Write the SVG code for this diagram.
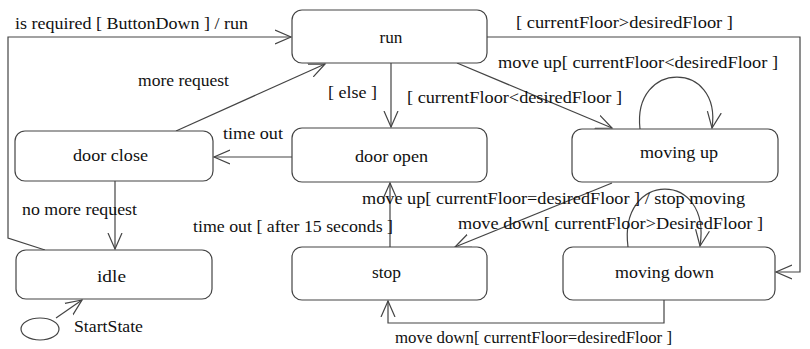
<svg xmlns="http://www.w3.org/2000/svg" width="810" height="349" viewBox="0 0 810 349">
<style>
.n{fill:#fff;stroke:#444;stroke-width:1.2}
.c{fill:none;stroke:#444;stroke-width:1.2;marker-end:url(#a)}
.t{font-family:'Liberation Serif','Times New Roman',serif;font-size:17px;fill:#111}
.m{text-anchor:middle}
</style>
<defs>
<marker id="a" markerUnits="userSpaceOnUse" markerWidth="24" markerHeight="24" refX="16" refY="8" orient="auto" viewBox="0 0 24 16">
<path d="M0,1 L16,8 L0,15" fill="none" stroke="#444" stroke-width="1.2"/>
</marker>
</defs>
<rect width="810" height="349" fill="#fff"/>
<g id="connectors">
<polyline class="c" points="45,250 8,238 8,37 291,37"/>
<line class="c" x1="176" y1="131" x2="325" y2="64"/>
<line class="c" x1="391" y1="63" x2="391" y2="127"/>
<line class="c" x1="457" y1="63" x2="612" y2="128"/>
<polyline class="c" points="487,37 800,37 800,272 776,272"/>
<path class="c" d="M640,129 C632,60 722,60 712,128"/>
<line class="c" x1="292" y1="157" x2="214" y2="157"/>
<line class="c" x1="115" y1="181" x2="115" y2="249"/>
<line class="c" x1="390" y1="247" x2="390" y2="183"/>
<line class="c" x1="612" y1="183" x2="455" y2="247"/>
<path class="c" d="M628,247 C618,170 712,170 700,246"/>
<polyline class="c" points="664,300 664,323 388,323 388,301"/>
<line class="c" x1="56" y1="318" x2="82" y2="300"/>
</g>
<g id="labels" class="t">
<text x="15" y="29" textLength="233" lengthAdjust="spacingAndGlyphs">is required [ ButtonDown ] / run</text>
<text x="138" y="86" textLength="91" lengthAdjust="spacingAndGlyphs">more request</text>
<text x="328" y="98" textLength="49" lengthAdjust="spacingAndGlyphs">[ else ]</text>
<text x="407" y="103" textLength="215" lengthAdjust="spacingAndGlyphs">[ currentFloor&lt;desiredFloor ]</text>
<text x="516" y="28" textLength="217" lengthAdjust="spacingAndGlyphs">[ currentFloor&gt;desiredFloor ]</text>
<text x="498" y="68" textLength="280" lengthAdjust="spacingAndGlyphs">move up[ currentFloor&lt;desiredFloor ]</text>
<text x="223" y="139" textLength="60" lengthAdjust="spacingAndGlyphs">time out</text>
<text x="22" y="215" textLength="115" lengthAdjust="spacingAndGlyphs">no more request</text>
<text x="193" y="232" textLength="200" lengthAdjust="spacingAndGlyphs">time out [ after 15 seconds ]</text>
<text x="362" y="204" textLength="383" lengthAdjust="spacingAndGlyphs">move up[ currentFloor=desiredFloor ] / stop moving</text>
<text x="458" y="229" textLength="305" lengthAdjust="spacingAndGlyphs">move down[ currentFloor&gt;DesiredFloor ]</text>
<text x="395" y="343" textLength="277" lengthAdjust="spacingAndGlyphs">move down[ currentFloor=desiredFloor ]</text>
</g>
<g class="t">
<g id="run"><rect class="n" x="292" y="10" width="195" height="53" rx="10"/><text class="m" x="391" y="43" textLength="23" lengthAdjust="spacingAndGlyphs">run</text></g>
<g id="door-close"><rect class="n" x="15" y="131" width="198" height="50" rx="10"/><text class="m" x="110.5" y="161" textLength="75" lengthAdjust="spacingAndGlyphs">door close</text></g>
<g id="door-open"><rect class="n" x="292" y="128" width="195" height="54" rx="10"/><text class="m" x="391.5" y="162" textLength="73" lengthAdjust="spacingAndGlyphs">door open</text></g>
<g id="moving-up"><rect class="n" x="572" y="129" width="206" height="53" rx="10"/><text class="m" x="679" y="158" textLength="78" lengthAdjust="spacingAndGlyphs">moving up</text></g>
<g id="idle"><rect class="n" x="16" y="250" width="196" height="49" rx="10"/><text class="m" x="111.5" y="282" textLength="29" lengthAdjust="spacingAndGlyphs">idle</text></g>
<g id="stop"><rect class="n" x="292" y="247" width="195" height="53" rx="10"/><text class="m" x="386.5" y="278" textLength="29" lengthAdjust="spacingAndGlyphs">stop</text></g>
<g id="moving-down"><rect class="n" x="563" y="247" width="212" height="53" rx="10"/><text class="m" x="664.5" y="278" textLength="99" lengthAdjust="spacingAndGlyphs">moving down</text></g>
<g id="start"><ellipse class="n" cx="40" cy="329" rx="19" ry="11"/><text x="74" y="332" textLength="69" lengthAdjust="spacingAndGlyphs">StartState</text></g>
</g>
</svg>
